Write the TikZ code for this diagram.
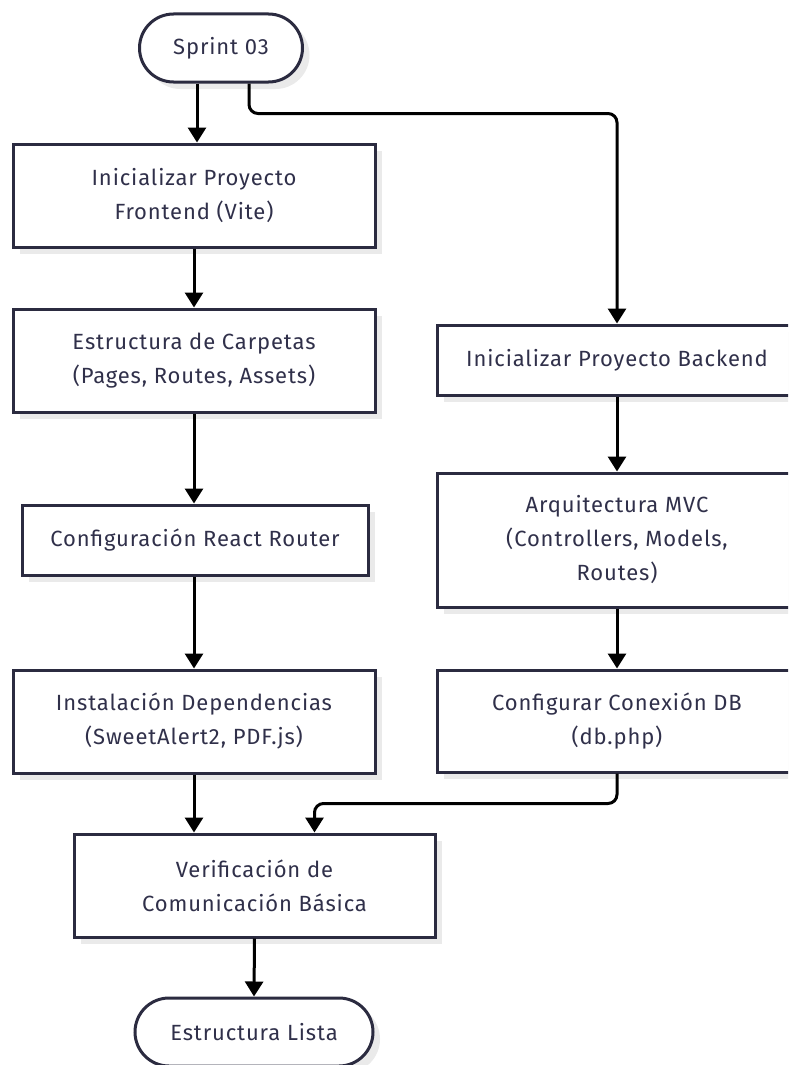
\documentclass[tikz,border=0pt]{standalone}
\usepackage{fontspec}
\setmainfont[LetterSpace=4]{Fira Sans}
\usetikzlibrary{arrows.meta,shapes.misc,shadows}

\definecolor{edgeink}{HTML}{2B2B40}
\definecolor{textink}{HTML}{30304A}
\definecolor{shade}{HTML}{EAEAEA}

\tikzset{
  every node/.style={font=\fontsize{22}{34}\selectfont, text=textink, align=center, inner sep=0pt},
  box/.style={draw=edgeink, line width=3pt, fill=white,
    general shadow={fill=shade, shadow xshift=7pt, shadow yshift=-7pt}},
  procbox/.style={box, rectangle},
  termbox/.style={box, rounded rectangle},
  arr/.style={line width=3pt, draw=black, -{Triangle[length=15pt,width=18pt]}, rounded corners=9pt},
}

\begin{document}
\begin{tikzpicture}[x=1pt,y=-1pt]
  \clip (0,0) rectangle (788,1065);
  \fill[white] (0,0) rectangle (788,1065);

  % frontend column
  \node[termbox, minimum width=163pt, minimum height=68pt] (start) at (221,48) {Sprint 03};
  \node[procbox, minimum width=362pt, minimum height=103pt] (fe1) at (194,195.5) {Inicializar Proyecto\\Frontend (Vite)};
  \node[procbox, minimum width=362pt, minimum height=103pt] (fe2) at (194,360.5) {Estructura de Carpetas\\(Pages, Routes, Assets)};
  \node[procbox, minimum width=346pt, minimum height=70pt] (fe3) at (195,540) {Configuración React Router};
  \node[procbox, minimum width=362pt, minimum height=103pt] (fe4) at (194,721.5) {Instalación Dependencias\\(SweetAlert2, PDF.js)};

  % backend column
  \node[procbox, minimum width=360pt, minimum height=70pt] (be1) at (617,360) {Inicializar Proyecto Backend};
  \node[procbox, minimum width=360pt, minimum height=134pt] (be2) at (617,540) {Arquitectura MVC\\(Controllers, Models,\\Routes)};
  \node[procbox, minimum width=360pt, minimum height=102pt] (be3) at (617,721) {Configurar Conexión DB\\(db.php)};

  % joining steps
  \node[procbox, minimum width=361pt, minimum height=103pt] (check) at (254.5,885.5) {Verificación de\\Comunicación Básica};
  \node[termbox, minimum width=238pt, minimum height=68pt] (done) at (254,1032) {Estructura Lista};

  % connectors
  \draw[arr] ([xshift=-24pt]start.south) -- ([xshift=-24pt]start.south |- fe1.north);
  \draw[arr] ([xshift=28pt]start.south) -- ++(0,30) -| (be1.north);
  \draw[arr] (fe1.south) -- (fe2.north);
  \draw[arr] (fe2.south) -- (fe2.south |- fe3.north);
  \draw[arr] (fe2.south |- fe3.south) -- (fe2.south |- fe4.north);
  \draw[arr] (fe4.south) -- (fe4.south |- check.north);
  \draw[arr] (be1.south) -- (be2.north);
  \draw[arr] (be2.south) -- (be3.north);
  \draw[arr] (be3.south) -- ++(0,30) -| ([xshift=60pt]check.north);
  \draw[arr] (check.south) -- (done.north);
\end{tikzpicture}
\end{document}
